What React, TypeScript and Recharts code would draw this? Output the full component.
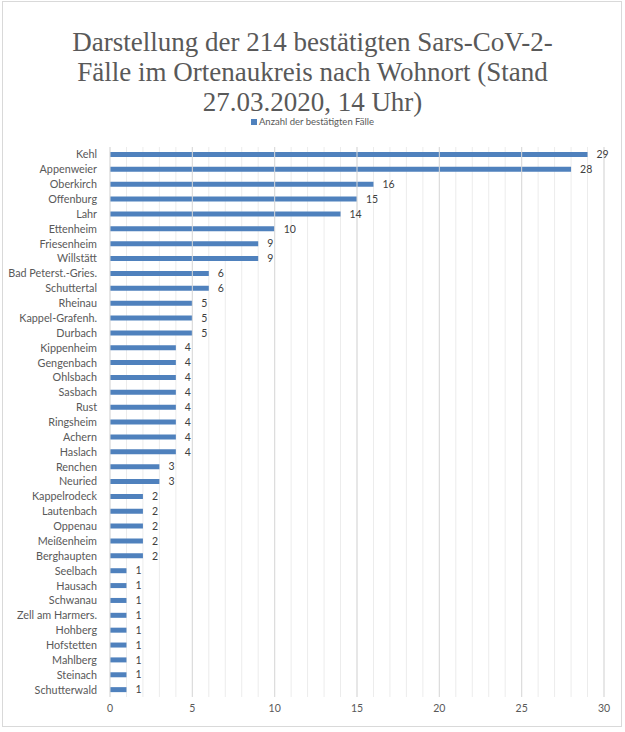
import { BarChart, Bar, XAxis, YAxis, CartesianGrid, LabelList, ReferenceLine } from "recharts";

const places = [
    "Kehl", "Appenweier", "Oberkirch", "Offenburg", "Lahr", "Ettenheim", "Friesenheim", "Willstätt",
    "Bad Peterst.-Gries.", "Schuttertal", "Rheinau", "Kappel-Grafenh.", "Durbach", "Kippenheim",
    "Gengenbach", "Ohlsbach", "Sasbach", "Rust", "Ringsheim", "Achern", "Haslach", "Renchen", "Neuried",
    "Kappelrodeck", "Lautenbach", "Oppenau", "Meißenheim", "Berghaupten", "Seelbach", "Hausach",
    "Schwanau", "Zell am Harmers.", "Hohberg", "Hofstetten", "Mahlberg", "Steinach", "Schutterwald",
];

const cases = [
    29, 28, 16, 15, 14, 10, 9, 9,
    6, 6, 5, 5, 5, 4,
    4, 4, 4, 4, 4, 4, 4, 3, 3,
    2, 2, 2, 2, 2, 1, 1,
    1, 1, 1, 1, 1, 1, 1,
];

const xTicks = Array.from({ length: 31 }, (_, i) => i);
const majorTicks = [5, 10, 15, 20, 25, 30];

const data = places.map((name, i) => ({ name, value: cases[i] }));

const textColor = "#595959";
const font = "Lato, 'Liberation Sans', sans-serif";

// one-line category label, no wrapping
function PlaceTick({ x, y, payload }: any) {
    return (
        <text x={x - 5} y={y} dy={4} textAnchor="end" fill={textColor} fontSize={10.8} fontFamily={font}>
            {payload.value}
        </text>
    );
}

export default function App() {
    return (
        <div style={{ position: "absolute", left: 0, top: 0, width: 625, height: 732, background: "#fff" }}>
            <div style={{ position: "absolute", left: 2, top: 1, width: 618, height: 724, border: "1px solid #d9d9d9" }} />
            <div
                style={{
                    position: "absolute", top: 27, left: 0, width: 625, textAlign: "center",
                    fontFamily: "'Liberation Serif', serif", fontSize: 27, lineHeight: "30px", color: textColor,
                }}
            >
                Darstellung der 214 bestätigten Sars-CoV-2-
                <br />
                Fälle im Ortenaukreis nach Wohnort (Stand
                <br />
                27.03.2020, 14 Uhr)
            </div>
            <div
                style={{
                    position: "absolute", top: 116, left: 0, width: 625, textAlign: "center",
                    fontFamily: font, fontSize: 9.5, lineHeight: "11px", color: textColor,
                }}
            >
                <span style={{ display: "inline-block", width: 6, height: 6, background: "#4F81BD", marginRight: 2 }} />
                Anzahl der bestätigten Fälle
            </div>
            <div style={{ position: "absolute", left: 0, top: 0 }}>
                <BarChart
                    width={625}
                    height={732}
                    data={data}
                    layout="vertical"
                    margin={{ top: 147, right: 21, left: 0, bottom: 0 }}
                >
                    <CartesianGrid horizontal={false} stroke="#ececec" />
                    {majorTicks.map((t) => (
                        <ReferenceLine key={t} x={t} stroke="#d9d9d9" />
                    ))}
                    <XAxis
                        type="number"
                        domain={[0, 30]}
                        ticks={xTicks}
                        interval={0}
                        tickFormatter={(v: number) => (v % 5 === 0 ? String(v) : "")}
                        axisLine={false}
                        tickLine={false}
                        height={35}
                        tick={{ fill: textColor, fontSize: 10.5, fontFamily: font }}
                    />
                    <YAxis
                        type="category"
                        dataKey="name"
                        width={110}
                        interval={0}
                        axisLine={{ stroke: "#d9d9d9" }}
                        tickLine={false}
                        tick={<PlaceTick />}
                    />
                    <Bar dataKey="value" fill="#4F81BD" barSize={5} isAnimationActive={false}>
                        <LabelList dataKey="value" position="right" offset={9} fill="#404040" fontSize={10.5} fontFamily={font} />
                    </Bar>
                </BarChart>
            </div>
        </div>
    );
}
